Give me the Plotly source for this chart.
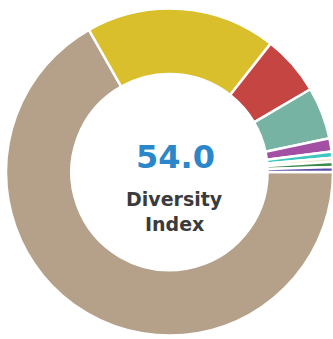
import plotly.graph_objects as go

labels = ["Group A", "Group B", "Group C", "Group D", "Group E", "Group F", "Group G", "Group H", "Group I"]
values = [66.4, 18.7, 5.9, 5.1, 1.3, 0.6, 0.4, 0.5, 0.5]
colors = ["#b5a08a", "#d9bf2c", "#c44542", "#76b3a2", "#a24fa4", "#3fc6c0", "#f3ead0", "#3d8a4a", "#5a4fa8"]

index_value = "54.0"
index_label = ["Diversity", "Index"]

fig = go.Figure(go.Pie(
    labels=labels,
    values=values,
    hole=0.6,
    sort=False,
    direction="clockwise",
    rotation=90,
    marker=dict(colors=colors, line=dict(color="white", width=2.5)),
    textinfo="none",
    hoverinfo="label+percent",
    domain=dict(x=[0.018, 1.0], y=[0.0088, 0.976]),
    showlegend=False,
))

fig.add_annotation(x=175 / 333, y=(339 - 157) / 339, xref="paper", yref="paper",
                   text=f"<b>{index_value}</b>", showarrow=False,
                   font=dict(family="DejaVu Sans", size=32, color="#2b87c9"))
fig.add_annotation(x=174 / 333, y=(339 - 199) / 339, xref="paper", yref="paper",
                   text=f"<b>{index_label[0]}</b>", showarrow=False,
                   font=dict(family="DejaVu Sans", size=19, color="#3b3b3b"))
fig.add_annotation(x=174 / 333, y=(339 - 224) / 339, xref="paper", yref="paper",
                   text=f"<b>{index_label[1]}</b>", showarrow=False,
                   font=dict(family="DejaVu Sans", size=19, color="#3b3b3b"))

fig.update_layout(
    width=333, height=339,
    margin=dict(l=0, r=0, t=0, b=0),
    paper_bgcolor="white", plot_bgcolor="white",
)

fig.write_html("out.html")
